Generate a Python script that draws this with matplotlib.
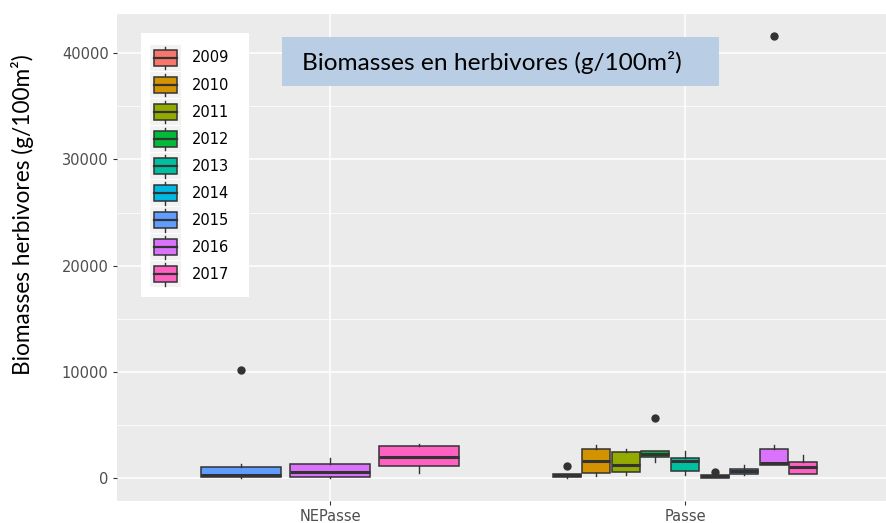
import matplotlib
matplotlib.use("Agg")
import matplotlib.pyplot as plt
from matplotlib.patches import Rectangle, Patch
from matplotlib.lines import Line2D
from matplotlib.legend_handler import HandlerBase
from matplotlib.ticker import FixedLocator

# Jahre und Farben (ggplot-Standardpalette)
jahre = ['2009', '2010', '2011', '2012', '2013', '2014', '2015', '2016', '2017']
farben = ['#F8766D', '#D39200', '#93AA00', '#00BA38', '#00C19F',
          '#00B9E3', '#619CFF', '#DB72FB', '#FF61C3']
gruppen = ['NEPasse', 'Passe']

# NEPasse: nur 2015-2017 vorhanden
ne_jahre = ['2015', '2016', '2017']
ne_whislo = [90, 90, 530]
ne_q1 = [160, 160, 1190]
ne_med = [350, 630, 2000]
ne_q3 = [1100, 1340, 3030]
ne_whishi = [1380, 1880, 3220]
ne_fliers = [[10170], [], []]

# Passe: alle Jahre
pa_whislo = [70, 190, 310, 1570, 310, 90, 310, 1310, 400]
pa_q1 = [160, 470, 630, 2000, 720, 90, 380, 1310, 400]
pa_med = [300, 1690, 1290, 2280, 1690, 200, 660, 1440, 1060]
pa_q3 = [440, 2820, 2470, 2630, 1910, 310, 910, 2820, 1570]
pa_whishi = [440, 3130, 2790, 2630, 2570, 310, 1310, 3130, 2220]
pa_fliers = [[1220], [], [], [5730], [], [590], [], [41600], []]

dunkel = '#333333'


class BoxHandler(HandlerBase):
    def create_artists(self, legend, orig_handle, xdescent, ydescent,
                       width, height, fontsize, trans):
        x0, y0 = -xdescent, -ydescent
        bg = Rectangle((x0, y0), width, height, fc='#F2F2F2', ec='none', transform=trans)
        cx = x0 + width / 2
        whisker = Line2D([cx, cx], [y0 + height * 0.06, y0 + height * 0.94],
                         color=dunkel, lw=1.0, transform=trans)
        box = Rectangle((x0 + width * 0.13, y0 + height * 0.2), width * 0.74, height * 0.6,
                        fc=orig_handle.get_facecolor(), ec=dunkel, lw=1.1, transform=trans)
        med = Line2D([x0 + width * 0.13, x0 + width * 0.87], [y0 + height / 2] * 2,
                     color=dunkel, lw=1.6, transform=trans)
        return [bg, whisker, box, med]


def make_stats(wl, q1, med, q3, wh, fl):
    return [dict(whislo=a, q1=b, med=c, q3=d, whishi=e, fliers=f)
            for a, b, c, d, e, f in zip(wl, q1, med, q3, wh, fl)]


fig = plt.figure(figsize=(8.87, 5.23), dpi=100)
ax = fig.add_axes([117 / 887, 22.3 / 523, 781 / 887, 486.7 / 523])
ax.set_facecolor('#EBEBEB')
ax.set_axisbelow(True)

box_kw = dict(patch_artist=True, showcaps=False,
              boxprops=dict(edgecolor=dunkel, lw=1.1),
              whiskerprops=dict(color=dunkel, lw=1.0),
              medianprops=dict(color=dunkel, lw=2.2),
              flierprops=dict(marker='o', markerfacecolor=dunkel,
                              markeredgecolor=dunkel, markersize=5))

# NEPasse
ne_pos = [1 + (i - 1) * 0.25 for i in range(len(ne_jahre))]
bp = ax.bxp(make_stats(ne_whislo, ne_q1, ne_med, ne_q3, ne_whishi, ne_fliers),
            positions=ne_pos, widths=0.225, **box_kw)
for patch, j in zip(bp['boxes'], ne_jahre):
    patch.set_facecolor(farben[jahre.index(j)])

# Passe
schritt = 0.75 / 9
pa_pos = [2 + (i - 4) * schritt for i in range(len(jahre))]
bp = ax.bxp(make_stats(pa_whislo, pa_q1, pa_med, pa_q3, pa_whishi, pa_fliers),
            positions=pa_pos, widths=schritt * 0.95, **box_kw)
for patch, f in zip(bp['boxes'], farben):
    patch.set_facecolor(f)

ax.set_xlim(0.4, 2.6)
ax.set_ylim(-2087, 43665)
ax.set_xticks([1, 2])
ax.set_xticklabels(gruppen)
ax.set_yticks([0, 10000, 20000, 30000, 40000])
ax.set_yticklabels(['0', '10000', '20000', '30000', '40000'])
ax.yaxis.set_minor_locator(FixedLocator([5000, 15000, 25000, 35000]))
ax.tick_params(which='major', length=3, width=0.8, color=dunkel,
               labelcolor='#4D4D4D', labelsize=10.5, pad=3)
ax.tick_params(which='minor', length=0)
ax.grid(which='major', color='white', lw=1.1)
ax.grid(which='minor', axis='y', color='white', lw=0.55)
for s in ax.spines.values():
    s.set_visible(False)

# Achsentitel
fig.text(23 / 887, 1 - 215 / 523, 'Biomasses herbivores (g/100m²)', rotation=90,
         ha='center', va='center', fontsize=16.3, family='Lato')

# Kasten mit Titel
fig.add_artist(Rectangle((282 / 887, 1 - 86 / 523), 437 / 887, 49 / 523,
                         transform=fig.transFigure, fc='#B9CDE4', ec='none', zorder=2))
fig.text(302 / 887, 1 - 62 / 523, 'Biomasses en herbivores (g/100m²)',
         ha='left', va='center', fontsize=17.6, family='Lato', zorder=3)

# Legende
fig.add_artist(Rectangle((141 / 887, 1 - 297 / 523), 108 / 887, 264 / 523,
                         transform=fig.transFigure, fc='white', ec='none', zorder=2))
handles = [Patch(facecolor=f) for f in farben]
fig.legend(handles, jahre, loc='upper left', bbox_to_anchor=(150 / 887, 1 - 45 / 523),
           borderaxespad=0, borderpad=0, frameon=False, fontsize=10.5,
           handler_map={Patch: BoxHandler()}, handlelength=31 / 14.6,
           handleheight=2.36, labelspacing=0.075, handletextpad=0.75)

plt.savefig('out.png', dpi=100)
